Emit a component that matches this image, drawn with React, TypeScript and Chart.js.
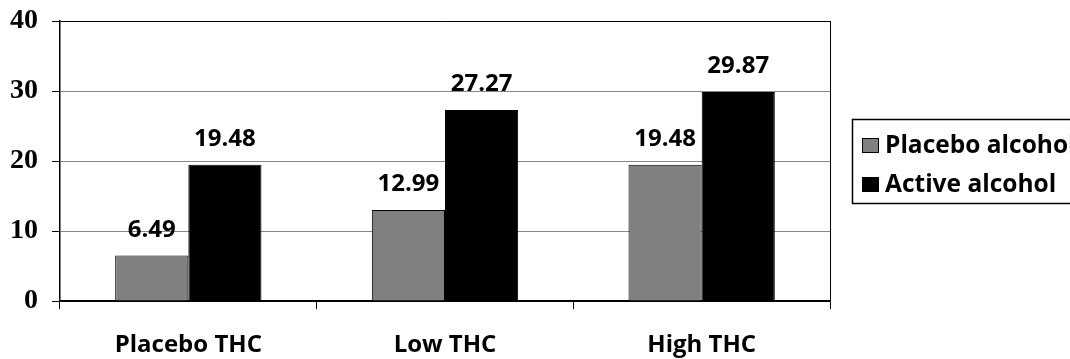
import React, { useEffect, useRef } from "react";
import { Chart, registerables } from "chart.js";

Chart.register(...registerables);

const categories = ["Placebo THC", "Low THC", "High THC"];
const placeboAlcohol = [6.49, 12.99, 19.48];
const activeAlcohol = [19.48, 27.27, 29.87];
const seriesNames = ["Placebo alcohol", "Active alcohol"];
const yTicks = [0, 10, 20, 30, 40];

const SANS = "'Open Sans', sans-serif";
const SERIF = "'Liberation Serif', 'Times New Roman', serif";

const extrasPlugin = {
  id: "extras",
  afterDatasetsDraw(chart: any) {
    const { ctx, chartArea } = chart;
    ctx.save();
    ctx.strokeStyle = "#000";
    ctx.lineWidth = 1;
    ctx.beginPath();
    ctx.moveTo(Math.round(chartArea.right) + 0.5, chartArea.top);
    ctx.lineTo(Math.round(chartArea.right) + 0.5, chartArea.bottom);
    ctx.stroke();
    ctx.font = `bold 24px ${SANS}`;
    ctx.fillStyle = "#000";
    ctx.textAlign = "center";
    ctx.textBaseline = "alphabetic";
    chart.data.datasets.forEach((ds: any, di: number) => {
      const meta = chart.getDatasetMeta(di);
      meta.data.forEach((el: any, i: number) => {
        ctx.fillText(ds.data[i].toFixed(2), el.x, el.y - 19);
      });
    });
    const lx = 852, ly = 119, lw = 260, lh = 84;
    ctx.strokeStyle = "#000";
    ctx.lineWidth = 1.5;
    ctx.strokeRect(lx + 0.5, ly + 0.5, lw, lh);
    ctx.font = `bold 24.5px ${SANS}`;
    ctx.textAlign = "left";
    ctx.textBaseline = "middle";
    chart.data.datasets.forEach((ds: any, di: number) => {
      const cy = di === 0 ? 145 : 184;
      ctx.fillStyle = ds.backgroundColor;
      ctx.fillRect(862, cy - 7, 17, 15);
      ctx.strokeStyle = "#000";
      ctx.lineWidth = 1;
      ctx.strokeRect(862.5, cy - 6.5, 16, 14);
      ctx.fillStyle = "#000";
      ctx.fillText(ds.label, 885, cy + 1);
    });
    ctx.restore();
  },
};

export default function App() {
  const ref = useRef<HTMLCanvasElement | null>(null);
  useEffect(() => {
    if (!ref.current) return;
    const chart = new Chart(ref.current, {
      type: "bar",
      data: {
        labels: categories,
        datasets: [
          {
            label: seriesNames[0],
            data: placeboAlcohol,
            backgroundColor: "#808080",
            borderColor: "#000",
            borderWidth: 1,
          },
          {
            label: seriesNames[1],
            data: activeAlcohol,
            backgroundColor: "#000000",
            borderColor: "#000",
            borderWidth: 1,
          },
        ],
      },
      options: {
        animation: false,
        responsive: false,
        maintainAspectRatio: false,
        layout: { padding: { top: 21, right: 240, left: 0, bottom: 0 } },
        plugins: { legend: { display: false }, tooltip: { enabled: false } },
        datasets: { bar: { categoryPercentage: 0.57, barPercentage: 1 } },
        scales: {
          x: {
            offset: true,
            grid: {
              offset: true,
              drawOnChartArea: false,
              drawTicks: true,
              tickLength: 8,
              color: "#000",
              tickColor: "#000",
            },
            border: { display: true, color: "#000", width: 1.5 },
            ticks: {
              color: "#000",
              padding: 22,
              font: { family: SANS, size: 24, weight: "bold" },
            },
            afterFit: (s: any) => {
              s.height = 58;
              s.paddingLeft = 0;
              s.paddingRight = 0;
            },
          },
          y: {
            min: 0,
            max: 40,
            afterBuildTicks: (s: any) => {
              s.ticks = yTicks.map((v) => ({ value: v }));
            },
            grid: {
              color: (c: any) =>
                c.tick && (c.tick.value === 0 || c.tick.value === 40) ? "#000" : "#888",
              tickColor: "#000",
              tickLength: 8,
              lineWidth: 1,
            },
            border: { display: true, color: "#000", width: 1.5 },
            ticks: {
              color: "#000",
              padding: 14,
              font: { family: SERIF, size: 28, weight: "bold" },
            },
            afterFit: (s: any) => {
              s.width = 60;
              s.paddingTop = 0;
              s.paddingBottom = 0;
            },
          },
        },
      },
      plugins: [extrasPlugin],
    });
    return () => chart.destroy();
  }, []);
  return (
    <div style={{ position: "absolute", left: 0, top: 0, width: 1070, height: 359, background: "#fff" }}>
      <canvas ref={ref} width={1070} height={359} style={{ width: 1070, height: 359 }} />
    </div>
  );
}
